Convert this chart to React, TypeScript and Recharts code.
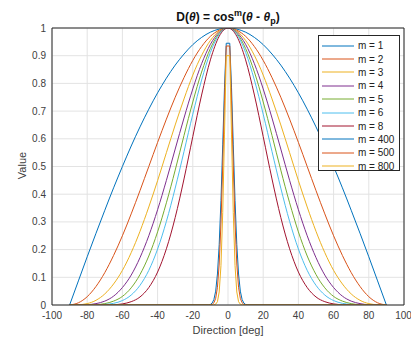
import { LineChart, Line, XAxis, YAxis, CartesianGrid } from "recharts";

const xTicks = [-100, -80, -60, -40, -20, 0, 20, 40, 60, 80, 100];
const yTicks = [0, 0.1, 0.2, 0.3, 0.4, 0.5, 0.6, 0.7, 0.8, 0.9, 1];

// wide lobes, sampled every 5 deg
const wideAngles = [
  -90, -85, -80, -75, -70, -65, -60, -55, -50, -45, -40, -35, -30, -25, -20, -15, -10, -5, 0,
  5, 10, 15, 20, 25, 30, 35, 40, 45, 50, 55, 60, 65, 70, 75, 80, 85, 90,
];
const m1 = [
  0, 0.087, 0.174, 0.259, 0.342, 0.423, 0.5, 0.574, 0.643, 0.707, 0.766, 0.819, 0.866, 0.906, 0.94, 0.966, 0.985, 0.996, 1,
  0.996, 0.985, 0.966, 0.94, 0.906, 0.866, 0.819, 0.766, 0.707, 0.643, 0.574, 0.5, 0.423, 0.342, 0.259, 0.174, 0.087, 0,
];
const m2 = [
  0, 0.008, 0.03, 0.067, 0.117, 0.179, 0.25, 0.329, 0.413, 0.5, 0.587, 0.671, 0.75, 0.821, 0.883, 0.933, 0.97, 0.992, 1,
  0.992, 0.97, 0.933, 0.883, 0.821, 0.75, 0.671, 0.587, 0.5, 0.413, 0.329, 0.25, 0.179, 0.117, 0.067, 0.03, 0.008, 0,
];
const m3 = [
  0, 0.001, 0.005, 0.017, 0.04, 0.076, 0.125, 0.189, 0.266, 0.354, 0.449, 0.55, 0.65, 0.744, 0.83, 0.901, 0.955, 0.989, 1,
  0.989, 0.955, 0.901, 0.83, 0.744, 0.65, 0.55, 0.449, 0.354, 0.266, 0.189, 0.125, 0.076, 0.04, 0.017, 0.005, 0.001, 0,
];
const m4 = [
  0, 0, 0.001, 0.005, 0.014, 0.032, 0.063, 0.108, 0.171, 0.25, 0.344, 0.45, 0.563, 0.675, 0.78, 0.871, 0.941, 0.985, 1,
  0.985, 0.941, 0.871, 0.78, 0.675, 0.563, 0.45, 0.344, 0.25, 0.171, 0.108, 0.063, 0.032, 0.014, 0.005, 0.001, 0, 0,
];
const m5 = [
  0, 0, 0, 0.001, 0.005, 0.014, 0.031, 0.062, 0.11, 0.177, 0.264, 0.369, 0.487, 0.612, 0.733, 0.841, 0.926, 0.981, 1,
  0.981, 0.926, 0.841, 0.733, 0.612, 0.487, 0.369, 0.264, 0.177, 0.11, 0.062, 0.031, 0.014, 0.005, 0.001, 0, 0, 0,
];
const m6 = [
  0, 0, 0, 0, 0.002, 0.006, 0.016, 0.036, 0.071, 0.125, 0.202, 0.302, 0.422, 0.554, 0.689, 0.812, 0.912, 0.977, 1,
  0.977, 0.912, 0.812, 0.689, 0.554, 0.422, 0.302, 0.202, 0.125, 0.071, 0.036, 0.016, 0.006, 0.002, 0, 0, 0, 0,
];
const m8 = [
  0, 0, 0, 0, 0, 0.001, 0.004, 0.012, 0.029, 0.063, 0.119, 0.203, 0.316, 0.455, 0.608, 0.758, 0.885, 0.97, 1,
  0.97, 0.885, 0.758, 0.608, 0.455, 0.316, 0.203, 0.119, 0.063, 0.029, 0.012, 0.004, 0.001, 0, 0, 0, 0, 0,
];

// narrow spikes, sampled every 1 deg near the centre
const narrowAngles = [
  -90, -11, -10, -9, -8, -7, -6, -5, -4, -3, -2, -1, 1, 2, 3, 4, 5, 6, 7, 8, 9, 10, 11, 90,
];
const m400 = [
  0, 0.001, 0.002, 0.007, 0.02, 0.05, 0.112, 0.218, 0.377, 0.578, 0.784, 0.945,
  0.945, 0.784, 0.578, 0.377, 0.218, 0.112, 0.05, 0.02, 0.007, 0.002, 0.001, 0,
];
const m500 = [
  0, 0, 0.001, 0.002, 0.008, 0.024, 0.064, 0.148, 0.296, 0.504, 0.737, 0.935,
  0.935, 0.737, 0.504, 0.296, 0.148, 0.064, 0.024, 0.008, 0.002, 0.001, 0, 0,
];
const m800 = [
  0, 0, 0, 0, 0, 0.003, 0.012, 0.047, 0.142, 0.334, 0.614, 0.9,
  0.9, 0.614, 0.334, 0.142, 0.047, 0.012, 0.003, 0, 0, 0, 0, 0,
];

const series = [
  { name: "m = 1", x: wideAngles, y: m1, color: "#0072BD", curve: "monotone" },
  { name: "m = 2", x: wideAngles, y: m2, color: "#D95319", curve: "monotone" },
  { name: "m = 3", x: wideAngles, y: m3, color: "#EDB120", curve: "monotone" },
  { name: "m = 4", x: wideAngles, y: m4, color: "#7E2F8E", curve: "monotone" },
  { name: "m = 5", x: wideAngles, y: m5, color: "#77AC30", curve: "monotone" },
  { name: "m = 6", x: wideAngles, y: m6, color: "#4DBEEE", curve: "monotone" },
  { name: "m = 8", x: wideAngles, y: m8, color: "#A2142F", curve: "monotone" },
  { name: "m = 400", x: narrowAngles, y: m400, color: "#0072BD", curve: "linear" },
  { name: "m = 500", x: narrowAngles, y: m500, color: "#D95319", curve: "linear" },
  { name: "m = 800", x: narrowAngles, y: m800, color: "#EDB120", curve: "linear" },
];

const axisColor = "#262626";
const textColor = "#404040";
const font = "'Liberation Sans', Arial, sans-serif";
const tickStyle = { fontSize: 10, fill: textColor, fontFamily: font };

function LegendBox() {
  return (
    <div
      style={{
        position: "absolute",
        left: 318,
        top: 35,
        width: 82,
        height: 136,
        border: `1px solid ${axisColor}`,
        background: "#fff",
        fontFamily: font,
        fontSize: 10,
        color: "#222",
        paddingTop: 3,
        boxSizing: "border-box",
      }}
    >
      {series.map((s) => (
        <div key={s.name} style={{ display: "flex", alignItems: "center", height: 13.4 }}>
          <svg width={36} height={6} style={{ marginLeft: 3 }}>
            <line x1={0} y1={3} x2={32} y2={3} stroke={s.color} strokeWidth={1} />
          </svg>
          <span>{s.name}</span>
        </div>
      ))}
    </div>
  );
}

export default function App() {
  return (
    <div style={{ position: "absolute", left: 0, top: 0, width: 411, height: 344, background: "#fff" }}>
      <div
        style={{
          position: "absolute",
          left: 52,
          top: 7,
          width: 352,
          textAlign: "center",
          fontFamily: font,
          fontWeight: "bold",
          fontSize: 12,
          lineHeight: "12px",
          color: "#111",
          whiteSpace: "nowrap",
        }}
      >
        D(<i>θ</i>) = cos<sup style={{ fontSize: 9 }}>m</sup>(<i>θ</i> - <i>θ</i>
        <sub style={{ fontSize: 9 }}>p</sub>)
      </div>
      <LineChart width={411} height={344} margin={{ top: 28, right: 7, bottom: 0, left: 8 }}>
        <CartesianGrid stroke="#e3e3e3" strokeWidth={1} />
        <XAxis
          type="number"
          dataKey="x"
          domain={[-100, 100]}
          ticks={xTicks}
          allowDataOverflow
          height={39}
          tickLine={false}
          tickSize={0}
          tickMargin={7}
          axisLine={{ stroke: axisColor }}
          tick={tickStyle}
        />
        <XAxis
          xAxisId="bottomTicks"
          type="number"
          domain={[-100, 100]}
          ticks={xTicks}
          allowDataOverflow
          orientation="bottom"
          mirror
          tick={false}
          tickSize={4}
          tickLine={{ stroke: axisColor }}
          axisLine={false}
        />
        <XAxis
          xAxisId="top"
          type="number"
          domain={[-100, 100]}
          ticks={xTicks}
          allowDataOverflow
          orientation="top"
          mirror
          tick={false}
          tickSize={4}
          tickLine={{ stroke: axisColor }}
          axisLine={{ stroke: axisColor }}
        />
        <YAxis
          type="number"
          domain={[0, 1]}
          ticks={yTicks}
          allowDataOverflow
          width={44}
          tickLine={false}
          tickSize={0}
          tickMargin={6}
          axisLine={{ stroke: axisColor }}
          tick={tickStyle}
        />
        <YAxis
          yAxisId="leftTicks"
          type="number"
          domain={[0, 1]}
          ticks={yTicks}
          allowDataOverflow
          orientation="left"
          mirror
          tick={false}
          tickSize={4}
          tickLine={{ stroke: axisColor }}
          axisLine={false}
        />
        <YAxis
          yAxisId="right"
          type="number"
          domain={[0, 1]}
          ticks={yTicks}
          allowDataOverflow
          orientation="right"
          mirror
          tick={false}
          tickSize={4}
          tickLine={{ stroke: axisColor }}
          axisLine={{ stroke: axisColor }}
        />
        {series.map((s) => (
          <Line
            key={s.name}
            data={s.x.map((x, i) => ({ x, y: s.y[i] }))}
            dataKey="y"
            name={s.name}
            type={s.curve as "monotone" | "linear"}
            stroke={s.color}
            strokeWidth={1}
            dot={false}
            activeDot={false}
            isAnimationActive={false}
          />
        ))}
      </LineChart>
      <LegendBox />
      <div
        style={{
          position: "absolute",
          left: 52,
          top: 325,
          width: 352,
          textAlign: "center",
          fontFamily: font,
          fontSize: 11,
          lineHeight: "11px",
          color: textColor,
        }}
      >
        Direction [deg]
      </div>
      <div
        style={{
          position: "absolute",
          left: -28,
          top: 159,
          width: 100,
          height: 13,
          lineHeight: "13px",
          textAlign: "center",
          fontFamily: font,
          fontSize: 11,
          color: textColor,
          transform: "rotate(-90deg)",
        }}
      >
        Value
      </div>
    </div>
  );
}
